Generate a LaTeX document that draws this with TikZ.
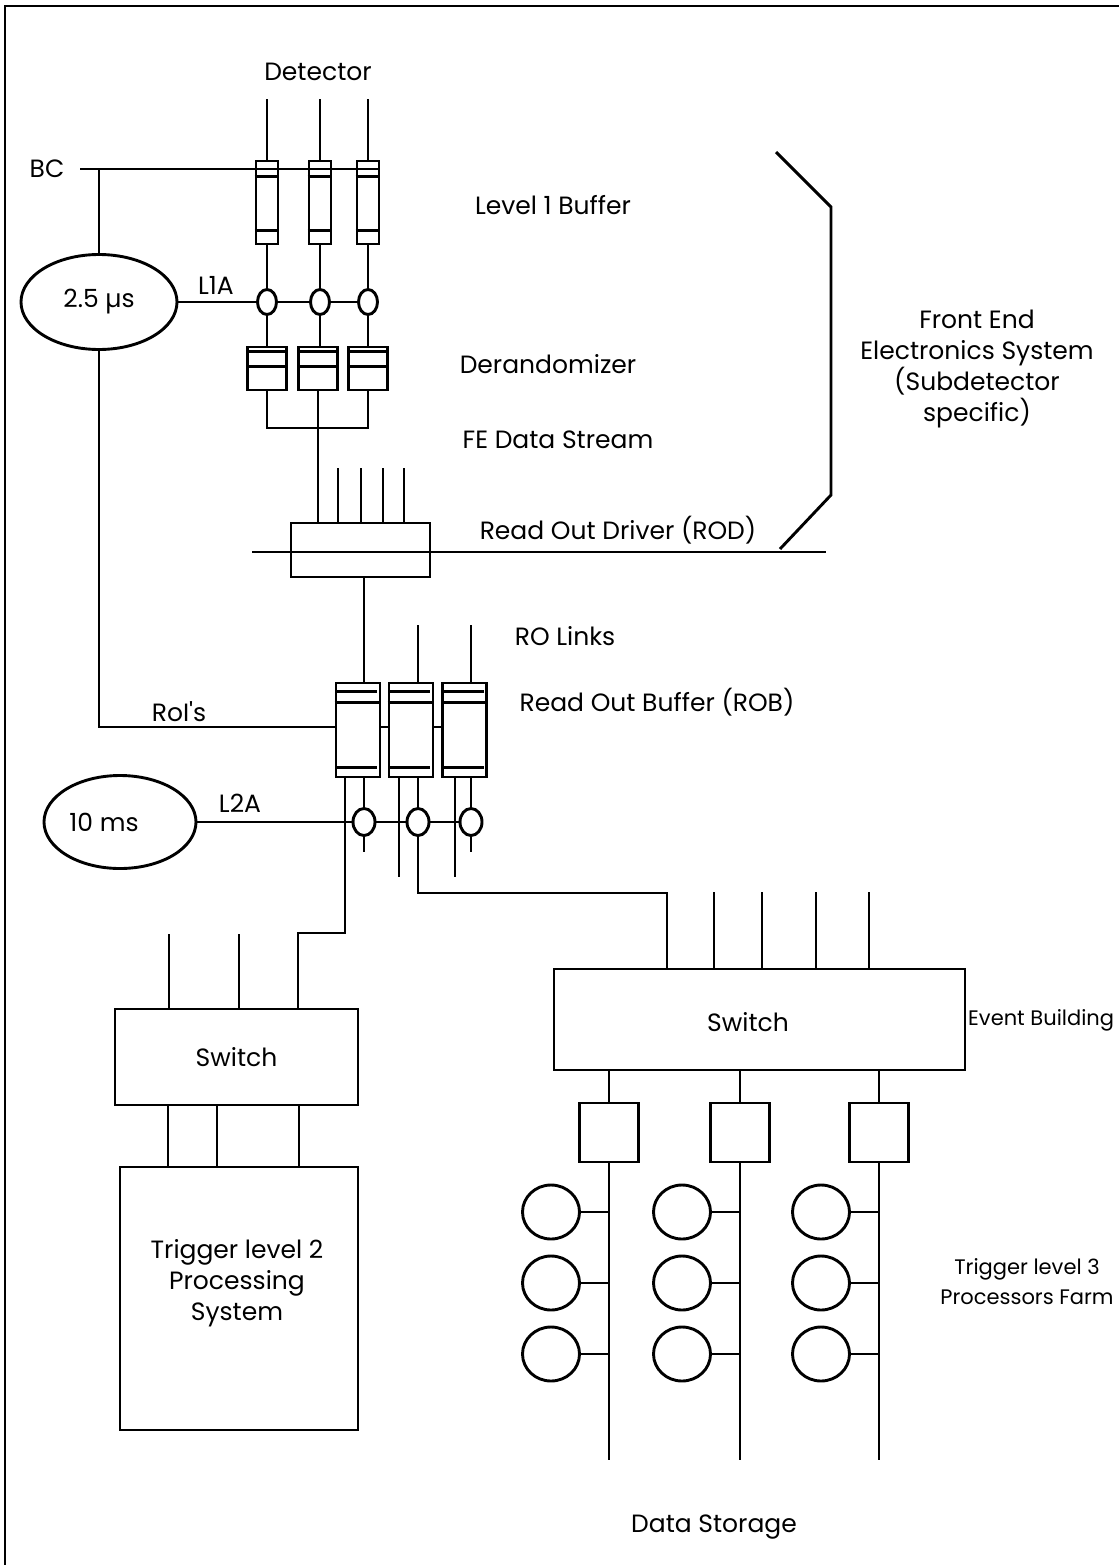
\documentclass[tikz,border=0pt]{standalone}
\usepackage{fontspec}
\setmainfont{Poppins}
\usetikzlibrary{calc,shapes.geometric}

\tikzset{
  wire/.style={line width=2.9pt},
  box/.style={draw, line width=2.9pt, rectangle, inner sep=0pt},
  oval/.style={draw, line width=2.9pt, ellipse, inner sep=0pt},
  lbl/.style={font=\fontsize{25}{31}\selectfont, inner sep=0pt, align=center},
  sidelbl/.style={font=\fontsize{21}{30}\selectfont, inner sep=0pt, align=center},
}

\begin{document}
\begin{tikzpicture}[x=1pt, y=-1pt]
\useasboundingbox (0,0) rectangle (1119,1565);

% frame
\coordinate (frbl) at (5,1565);
\coordinate (frtl) at (5,6);
\coordinate (frtr) at (1119,6);
\draw[wire] (frbl) -- (frtl) -- (frtr);

% level 1 buffers
\foreach \n/\x in {a/267,b/320,c/368} {
  \node[box, minimum width=22pt, minimum height=83pt] (l1\n) at (\x,202.5) {};
  \draw[wire] ($(l1\n.north west)+(0,17)$) -- ($(l1\n.north east)+(0,17)$);
  \draw[wire] ($(l1\n.south west)+(0,-15)$) -- ($(l1\n.south east)+(0,-15)$);
  \draw[wire] (l1\n.north) -- ++(0,-61);
}
\node[lbl] (det) at (318,72) {Detector};

% bunch crossing and L1 latency
\node[lbl] (bc) at (47,169) {BC};
\coordinate (bcend) at (80,169);
\node[oval, minimum width=156pt, minimum height=95pt] (lat1) at (99,302) {\fontsize{25}{31}\selectfont 2.5 µs};
\draw[wire] (bcend) -- (l1c.east |- bcend);
\draw[wire] (lat1.north |- bcend) -- (lat1.north);

% L1A strobes
\foreach \n/\x in {a/267,b/320,c/368}
  \node[oval, minimum width=19pt, minimum height=25pt] (s\n) at (\x,302) {};
\draw[wire] (lat1.east) -- (sa.west) (sa.east) -- (sb.west) (sb.east) -- (sc.west);
\node[lbl] (l1atxt) at (216,285) {L1A};

% derandomizers
\foreach \n/\x in {a/267,b/318,c/368} {
  \node[box, minimum width=39pt, minimum height=43pt] (dr\n) at (\x,368.5) {};
  \draw[wire] ($(dr\n.north west)+(3,6)$) -- ($(dr\n.north east)+(-3,6)$);
  \draw[wire] ($(dr\n.north west)+(0,21)$) -- ($(dr\n.north east)+(0,21)$);
  \draw[wire] (l1\n.south) -- (s\n.north);
  \draw[wire] (s\n.south) -- (s\n.south |- dr\n.north);
}

% read out driver
\node[box, minimum width=139pt, minimum height=54pt] (rod) at (360.5,550) {};
\coordinate (fe) at (drb.south |- 0,428);
\draw[wire] (dra.south) |- (fe) -| (drc.south);
\draw[wire] (drb.south) -- (drb.south |- rod.north);
\foreach \x in {338,361,383,404}
  \draw[wire] (rod.north -| {\x,0}) -- ++(0,-54);
\coordinate (rodl) at (252,552);
\coordinate (rodr) at (826,552);
\draw[wire] (rodl) -- (rodr);

% front end bracket
\coordinate (br1) at (776,152);
\coordinate (br2) at (831,207);
\coordinate (br3) at (831,495);
\coordinate (br4) at (780,549);
\draw[wire] (br1) -- (br2) -- (br3) -- (br4);

% read out buffers
\foreach \n/\x/\i in {a/358/364,b/411/418,c/464.5/471} {
  \node[box, minimum width=44pt, minimum height=94pt] (rob\n) at (\x,730) {};
  \draw[wire] ($(rob\n.north west)+(2,10)$) -- ($(rob\n.north east)+(-4,10)$);
  \draw[wire] ($(rob\n.north west)+(0,21)$) -- ($(rob\n.north east)+(0,21)$);
  \draw[wire] ($(rob\n.south west)+(2,-11)$) -- ($(rob\n.south east)+(-4,-11)$);
  \node[oval, minimum width=22pt, minimum height=27pt] (t\n) at (\i,822) {};
  \draw[wire] (rob\n.south -| t\n) -- (t\n.north);
}
\draw[wire] (rod.south -| roba.north -| {364,0}) -- (roba.north -| {364,0});
\draw[wire] (robb.north -| {418,0}) -- ++(0,-57);
\draw[wire] (robc.north -| {471,0}) -- ++(0,-57);
\draw[wire] (roba.east |- 0,727) -- (robb.west |- 0,727);
\draw[wire] (robb.east |- 0,727) -- (robc.west |- 0,727);
\draw[wire] (lat1.south) |- (roba.west |- 0,727);
\node[lbl] (roi) at (179,712) {RoI\textquotesingle s};

% L2 latency
\node[oval, minimum width=152pt, minimum height=93pt] (lat2) at (120,822) {};
\node[lbl] (lat2txt) at (104,822) {10 ms};
\draw[wire] (lat2.east) -- (ta.west) (ta.east) -- (tb.west) (tb.east) -- (tc.west);
\node[lbl] (l2a) at (240,803) {L2A};
\draw[wire] (ta.south) -- ++(0,15);
\draw[wire] (tc.south) -- ++(0,15);
\coordinate (robbl) at (399,877);
\coordinate (robcl) at (455,877);
\draw[wire] (robb.south -| robbl) -- (robbl);
\draw[wire] (robc.south -| robcl) -- (robcl);

% level 2 switch and processing
\node[box, minimum width=243pt, minimum height=96pt, lbl] (sw2) at (236.5,1057) {Switch};
\coordinate (l2in) at (298,933);
\draw[wire] (roba.south -| {345,0}) |- (l2in) -- (sw2.north -| l2in);
\foreach \x in {169,239}
  \draw[wire] (sw2.north -| {\x,0}) -- ++(0,-74);
\node[box, minimum width=238pt, minimum height=263pt] (tl2) at (239,1298.5) {};
\foreach \x in {168,217,299}
  \draw[wire] (sw2.south -| {\x,0}) -- (tl2.north -| {\x,0});
\node[lbl] (tl2txt) at (237,1283) {Trigger level 2\\Processing\\System};

% event building switch
\node[box, minimum width=411pt, minimum height=101pt] (sw3) at (759.5,1019.5) {};
\node[lbl] (sw3txt) at (748,1022) {Switch};
\coordinate (ebin) at (667,893);
\draw[wire] (tb.south) |- (ebin) -- (sw3.north -| ebin);
\foreach \x in {714,762,816,869}
  \draw[wire] (sw3.north -| {\x,0}) -- ++(0,-76);
\node[sidelbl, anchor=west] (evb) at (968,1020) {Event Building};

% level 3 farm
\foreach \c/\x in {1/609,2/740,3/879} {
  \node[box, minimum size=59pt] (q\c) at (\x,1132.5) {};
  \draw[wire] (sw3.south -| q\c) -- (q\c.north);
  \coordinate (ds\c) at (\x,1460);
  \draw[wire] (q\c.south) -- (ds\c);
  \foreach \r/\y in {1/1212,2/1283,3/1354} {
    \node[oval, minimum width=57pt, minimum height=54pt] (p\c\r) at (\x-58,\y) {};
    \draw[wire] (p\c\r.east) -- (q\c.south |- p\c\r);
  }
}
\node[sidelbl] (tl3txt) at (1027,1282) {Trigger level 3\\Processors Farm};
\node[lbl] (dstore) at (714,1527) {Data Storage};

% labels of the front end chain
\node[lbl] (l1buf) at (553,205) {Level 1 Buffer};
\node[lbl] (derand) at (548,364) {Derandomizer};
\node[lbl] (festr) at (558,440) {FE Data Stream};
\node[lbl] (rodtxt) at (618,530) {Read Out Driver (ROD)};
\node[lbl] (rolink) at (565,636) {RO Links};
\node[lbl] (robtxt) at (657,702) {Read Out Buffer (ROB)};
\node[lbl] (fesys) at (977,369) {Front End\\Electronics System\\(Subdetector\\specific)};
\end{tikzpicture}
\end{document}
